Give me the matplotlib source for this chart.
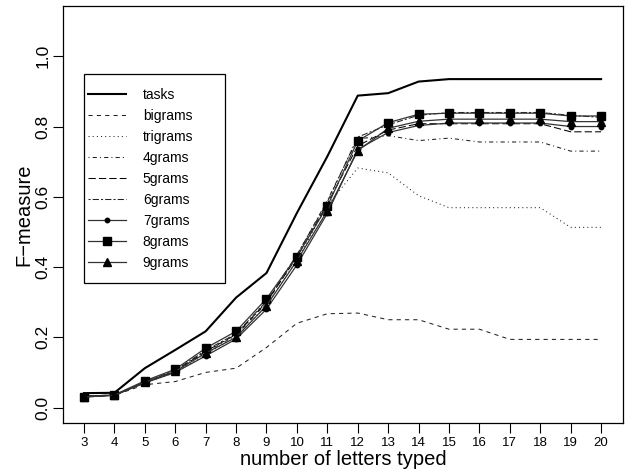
import matplotlib
matplotlib.use("Agg")
import matplotlib.pyplot as plt
from matplotlib.patches import Rectangle

plt.rcParams['font.family'] = ['Liberation Sans', 'DejaVu Sans']

letters = list(range(3, 21))
tasks    = [0.041, 0.042, 0.112, 0.164, 0.217, 0.313, 0.383, 0.554, 0.715, 0.888, 0.895, 0.928, 0.935, 0.935, 0.935, 0.935, 0.935, 0.935]
bigrams  = [0.030, 0.035, 0.065, 0.074, 0.100, 0.112, 0.171, 0.240, 0.267, 0.269, 0.250, 0.250, 0.223, 0.223, 0.194, 0.194, 0.194, 0.194]
trigrams = [0.030, 0.035, 0.070, 0.100, 0.152, 0.200, 0.290, 0.420, 0.575, 0.682, 0.668, 0.603, 0.569, 0.569, 0.569, 0.569, 0.513, 0.513]
grams4   = [0.031, 0.035, 0.071, 0.103, 0.158, 0.205, 0.298, 0.432, 0.590, 0.765, 0.774, 0.760, 0.767, 0.756, 0.756, 0.756, 0.730, 0.730]
grams5   = [0.032, 0.035, 0.072, 0.104, 0.160, 0.208, 0.300, 0.428, 0.580, 0.745, 0.790, 0.808, 0.808, 0.808, 0.808, 0.808, 0.785, 0.785]
grams6   = [0.033, 0.036, 0.073, 0.106, 0.163, 0.210, 0.303, 0.435, 0.585, 0.770, 0.805, 0.832, 0.840, 0.840, 0.840, 0.840, 0.832, 0.826]
grams7   = [0.030, 0.035, 0.070, 0.100, 0.147, 0.195, 0.280, 0.406, 0.553, 0.735, 0.783, 0.803, 0.810, 0.810, 0.810, 0.810, 0.800, 0.800]
grams8   = [0.031, 0.036, 0.076, 0.109, 0.169, 0.217, 0.310, 0.430, 0.573, 0.759, 0.811, 0.835, 0.838, 0.838, 0.838, 0.838, 0.830, 0.830]
grams9   = [0.030, 0.035, 0.072, 0.103, 0.155, 0.200, 0.290, 0.418, 0.560, 0.731, 0.795, 0.815, 0.821, 0.821, 0.821, 0.821, 0.814, 0.814]

labels = ["tasks", "bigrams", "trigrams", "4grams", "5grams", "6grams", "7grams", "8grams", "9grams"]
series = [tasks, bigrams, trigrams, grams4, grams5, grams6, grams7, grams8, grams9]
yticks = [0.0, 0.2, 0.4, 0.6, 0.8, 1.0]

styles = [
    dict(color='black', lw=1.5, ls='-'),
    dict(color='#222222', lw=0.75, ls=(0, (4, 4))),
    dict(color='#222222', lw=0.75, ls=(0, (1, 3))),
    dict(color='#222222', lw=0.75, ls=(0, (1, 3, 4, 3))),
    dict(color='black', lw=0.75, ls=(0, (7, 3))),
    dict(color='#222222', lw=0.75, ls=(0, (2, 2, 6, 2))),
    dict(color='#333333', lw=0.9, ls='-', marker='o', ms=3.2, mfc='black', mec='black'),
    dict(color='#333333', lw=0.9, ls='-', marker='s', ms=5.5, mfc='black', mec='black'),
    dict(color='#333333', lw=0.9, ls='-', marker='^', ms=5.5, mfc='black', mec='black'),
]

fig = plt.figure(figsize=(6.33, 4.72), dpi=100)
ax = fig.add_axes([63.3/633, 1-423/472, (623-63.3)/633, (423-5.7)/472])

handles = []
for lab, ys, st in zip(labels, series, styles):
    h, = ax.plot(letters, ys, label=lab, **st)
    handles.append(h)

ax.set_xlim(2.32, 20.72)
ax.set_ylim(-0.044, 1.144)
ax.set_xticks(letters)
ax.set_xticklabels([str(v) for v in letters], fontsize=9.5)
ax.set_yticks(yticks)
ax.set_yticklabels([f"{v:.1f}" for v in yticks], fontsize=12.5, rotation=90, va='center')
ax.tick_params(axis='both', direction='out', length=7, width=0.8, color='black')
ax.tick_params(axis='y', pad=2)
ax.tick_params(axis='x', pad=3)
for sp in ax.spines.values():
    sp.set_linewidth(0.9)

ax.set_xlabel("number of letters typed", fontsize=14.5, labelpad=1)
ax.set_ylabel("F\u2212measure", fontsize=14.5, labelpad=2)

# legend box
x0 = (84-63.3)/(623-63.3); x1 = (225-63.3)/(623-63.3)
y0 = (423-283)/(423-5.7); y1 = (423-74)/(423-5.7)
ax.add_patch(Rectangle((x0, y0), x1-x0, y1-y0, transform=ax.transAxes,
                       fill=False, ec='black', lw=0.9, zorder=5))
leg = ax.legend(handles=handles, loc='upper left',
                bbox_to_anchor=((88-63.3)/(623-63.3), (423-88)/(423-5.7)),
                frameon=False, fontsize=10, borderpad=0, borderaxespad=0,
                handlelength=2.75, handletextpad=1.2, labelspacing=0.5)

fig.savefig("out.png", dpi=100)
